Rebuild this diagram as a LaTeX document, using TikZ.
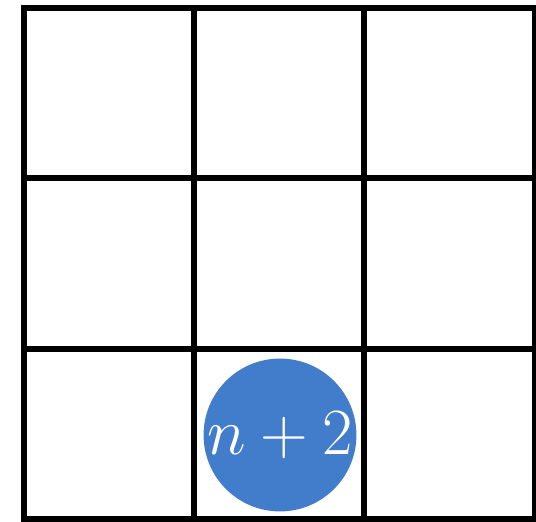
\RequirePackage{fix-cm}
\documentclass[tikz,border=0pt]{standalone}
\usepackage{tikz}
\definecolor{tokblue}{HTML}{427DCC}

\begin{document}
\begin{tikzpicture}[
    x=1pt, y=-1pt,
    gridline/.style={draw=black, line width=6pt},
    token/.style={circle, fill=tokblue, text=white, inner sep=0pt,
                  minimum size=150pt, font=\fontsize{66}{70}\selectfont}
  ]
  \useasboundingbox (0,0) rectangle (536,522);

  % board
  \draw[gridline] (23.7,8) rectangle (535,519);
  \foreach \i in {1,2} {
    \draw[gridline] (23.7+170.1*\i,8) -- (23.7+170.1*\i,519);
    \draw[gridline] (23.7,8+170.3*\i) -- (535,8+170.3*\i);
  }

  % token
  \node[token] (tok) at (280,435) {$n+2$};

\end{tikzpicture}
\end{document}
